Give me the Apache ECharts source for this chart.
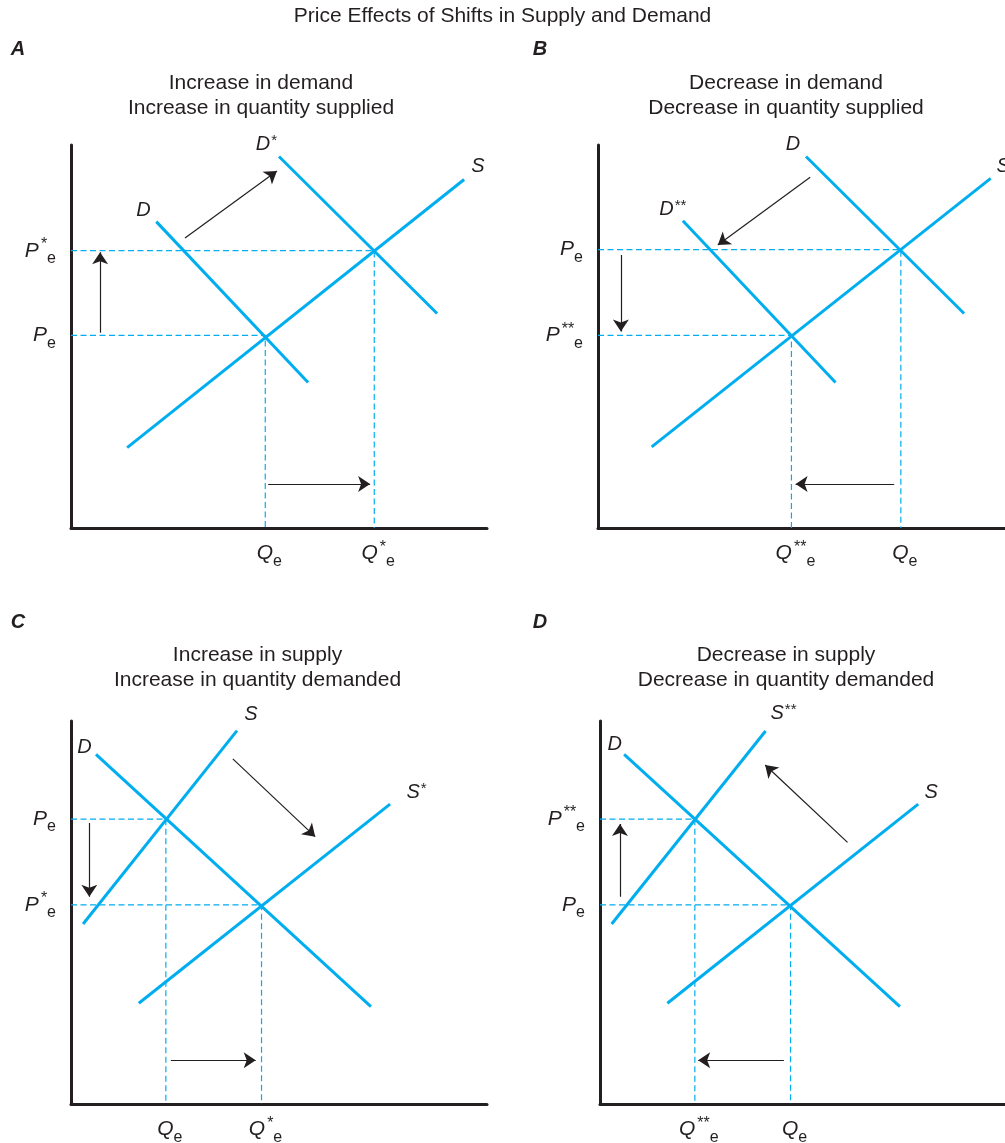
<!DOCTYPE html>
<html>
<head>
<meta charset="utf-8">
<script src="https://cdn.jsdelivr.net/npm/echarts@6/dist/echarts.min.js"></script>
<style>html,body{margin:0;padding:0;background:#fff}#chart{width:1005px;height:1143px}</style>
</head>
<body>
<div id="chart"></div>
<script>
// ---------------- DATA ----------------
const mainTitle = 'Price Effects of Shifts in Supply and Demand';
const panelLetters = ['A', 'B', 'C', 'D'];

// Panel A: increase in demand
const aTitle = ['Increase in demand', 'Increase in quantity supplied'];
const aSupply = [[13.5, 21], [94.5, 91]];
const aDemand = [[57, 38], [20.5, 80]];
const aDemandStar = [[88, 56], [50, 97]];
const aCurveNames = [['S'], ['D'], ['D', '*']];
const aPrices = [50.3, 72.4];
const aPriceLabels = [['P', '', 'e'], ['P', '*', 'e']];
const aQuantities = [46.7, 72.9];
const aQuantityLabels = [['Q', '', 'e'], ['Q', '*', 'e']];
const aArrows = [[[7, 51], [7, 72]], [[27.4, 75.7], [49.5, 93.2]], [[47.4, 11.5], [71.9, 11.5]]];

// Panel B: decrease in demand
const bTitle = ['Decrease in demand', 'Decrease in quantity supplied'];
const bSupply = [[12.9, 21.2], [94.4, 91.3]];
const bDemand = [[88, 56], [50, 97]];
const bDemandStar = [[57.1, 38], [20.4, 80.2]];
const bCurveNames = [['S'], ['D'], ['D', '**']];
const bPrices = [72.7, 50.3];
const bPriceLabels = [['P', '', 'e'], ['P', '**', 'e']];
const bQuantities = [72.8, 46.5];
const bQuantityLabels = [['Q', '', 'e'], ['Q', '**', 'e']];
const bArrows = [[[5.5, 71.3], [5.5, 51.3]], [[51, 91.6], [28.8, 73.9]], [[71.2, 11.5], [47.5, 11.5]]];

// Panel C: increase in supply
const cTitle = ['Increase in supply', 'Increase in quantity demanded'];
const cSupply = [[2.9, 47], [39.9, 97.5]];
const cDemand = [[72.1, 25.4], [6, 91.3]];
const cSupplyStar = [[16.3, 26.3], [76.7, 78.3]];
const cCurveNames = [['S'], ['D'], ['S', '*']];
const cPrices = [74.4, 52];
const cPriceLabels = [['P', '', 'e'], ['P', '*', 'e']];
const cQuantities = [22.8, 45.8];
const cQuantityLabels = [['Q', '', 'e'], ['Q', '*', 'e']];
const cArrows = [[[4.4, 73.4], [4.4, 54.1]], [[38.9, 90.1], [58.7, 69.8]], [[24, 11.4], [44.4, 11.4]]];

// Panel D: decrease in supply
const dTitle = ['Decrease in supply', 'Decrease in quantity demanded'];
const dSupplyStar = [[2.8, 47], [39.8, 97.4]];
const dDemand = [[72.1, 25.4], [5.8, 91.3]];
const dSupply = [[16.2, 26.3], [76.5, 78.3]];
const dCurveNames = [['S', '**'], ['D'], ['S']];
const dPrices = [52, 74.4];
const dPriceLabels = [['P', '', 'e'], ['P', '**', 'e']];
const dQuantities = [45.8, 22.8];
const dQuantityLabels = [['Q', '', 'e'], ['Q', '**', 'e']];
const dArrows = [[[4.8, 54.1], [4.8, 73.1]], [[59.5, 68.3], [39.7, 88.5]], [[44.2, 11.4], [23.6, 11.4]]];

// ---------------- LAYOUT / STYLE ----------------
const INK = '#231f20';
const BLUE = '#00aeef';
const FONT = '"Liberation Sans", Arial, Helvetica, sans-serif';

const gridPos = [[71, 145], [598, 145], [71, 721], [600, 721]];
const titleCenters = [[261, 96], [786, 96], [257.5, 667.7], [786, 667.7]];
const letterPos = [[18, 49], [540, 49], [18, 622], [540, 622]];
const labelOffsets = [
  [[13.7, -13], [-12.7, -10.7], [-12.6, -12]],
  [[12.5, -12], [-13, -12], [-10, -11]],
  [[14, -15.7], [-11.5, -7.3], [26.4, -12]],
  [[17.9, -17.2], [-9.5, -9.6], [13, -12.1]]
];

const panels = [
  {curves: [aSupply, aDemand, aDemandStar], names: aCurveNames, prices: aPrices, priceLabels: aPriceLabels, quantities: aQuantities, quantityLabels: aQuantityLabels, arrows: aArrows, title: aTitle},
  {curves: [bSupply, bDemand, bDemandStar], names: bCurveNames, prices: bPrices, priceLabels: bPriceLabels, quantities: bQuantities, quantityLabels: bQuantityLabels, arrows: bArrows, title: bTitle},
  {curves: [cSupply, cDemand, cSupplyStar], names: cCurveNames, prices: cPrices, priceLabels: cPriceLabels, quantities: cQuantities, quantityLabels: cQuantityLabels, arrows: cArrows, title: cTitle},
  {curves: [dSupplyStar, dDemand, dSupply], names: dCurveNames, prices: dPrices, priceLabels: dPriceLabels, quantities: dQuantities, quantityLabels: dQuantityLabels, arrows: dArrows, title: dTitle}
];

const AXIS_RICH = {
  b: {fontFamily: FONT, fontStyle: 'italic', fontSize: 21, color: INK, lineHeight: 32},
  sp: {fontFamily: FONT, fontSize: 16, color: INK, verticalAlign: 'top', lineHeight: 16, padding: [2, 0, 0, 2]},
  sb: {fontFamily: FONT, fontSize: 16, color: INK, verticalAlign: 'bottom', lineHeight: 16}
};
const CURVE_RICH = {
  b: {fontFamily: FONT, fontStyle: 'italic', fontSize: 20, color: INK, lineHeight: 28},
  sp: {fontFamily: FONT, fontSize: 15, color: INK, verticalAlign: 'top', lineHeight: 15, padding: [3, 0, 0, 1]}
};

function fmt(parts) {
  let s = '{b|' + parts[0] + '}';
  if (parts[1]) s += '{sp|' + parts[1] + '}';
  if (parts[2]) s += '{sb|' + parts[2] + '}';
  return s;
}

const grids = [], xAxes = [], yAxes = [], series = [], graphics = [];

panels.forEach((p, gi) => {
  grids.push({left: gridPos[gi][0], top: gridPos[gi][1], width: 416, height: 383,
              containLabel: false, outerBoundsMode: 'none'});
  xAxes.push({
    gridIndex: gi, type: 'value', min: 0, max: 100,
    axisLine: {show: true, onZero: false, lineStyle: {color: INK, width: 3}},
    axisTick: {show: false}, splitLine: {show: false},
    axisLabel: {
      show: true, customValues: p.quantities, margin: 9.5, padding: [0, 0, 0, 8],
      formatter: v => fmt(p.quantityLabels[p.quantities.indexOf(v)]),
      rich: AXIS_RICH
    }
  });
  yAxes.push({
    gridIndex: gi, type: 'value', min: 0, max: 100,
    axisLine: {show: true, onZero: false, lineStyle: {color: INK, width: 3}},
    axisTick: {show: false}, splitLine: {show: false},
    axisLabel: {
      show: true, customValues: p.prices, margin: 15,
      formatter: v => fmt(p.priceLabels[p.prices.indexOf(v)]),
      rich: AXIS_RICH
    }
  });

  // dashed equilibrium guides
  p.prices.forEach((pr, k) => {
    series.push({
      type: 'line', xAxisIndex: gi, yAxisIndex: gi, silent: true, z: 1,
      symbol: 'none', animation: false,
      lineStyle: {color: BLUE, width: 1.2, type: [6, 3.5]},
      data: [[0, pr], [p.quantities[k], pr], [p.quantities[k], 0]]
    });
  });

  // supply / demand curves
  p.curves.forEach((c, k) => {
    const off = labelOffsets[gi][k];
    series.push({
      type: 'line', xAxisIndex: gi, yAxisIndex: gi, silent: true, z: 3,
      symbol: 'none', showSymbol: true, animation: false,
      lineStyle: {color: BLUE, width: 3},
      itemStyle: {color: 'rgba(0,0,0,0)', borderWidth: 0},
      data: c.map((pt, i) => i === c.length - 1 ? {
        value: pt, symbol: 'circle', symbolSize: 1,
        label: {show: true, position: 'inside', offset: off, align: 'center', verticalAlign: 'middle',
                formatter: fmt(p.names[k]), rich: CURVE_RICH}
      } : {value: pt})
    });
  });

  // arrows
  series.push({
    type: 'lines', coordinateSystem: 'cartesian2d', xAxisIndex: gi, yAxisIndex: gi,
    silent: true, z: 4, animation: false,
    symbol: ['none', 'arrow'], symbolSize: [5, 12],
    lineStyle: {color: INK, width: 1.2, opacity: 1, curveness: 0},
    data: p.arrows.map(a => ({coords: a}))
  });

  graphics.push({
    type: 'text', x: titleCenters[gi][0], y: titleCenters[gi][1], silent: true,
    style: {text: p.title.join('\n'), font: '21px ' + FONT, fill: INK, align: 'center', verticalAlign: 'middle', lineHeight: 25}
  });
  graphics.push({
    type: 'text', x: letterPos[gi][0], y: letterPos[gi][1], silent: true,
    style: {text: panelLetters[gi], font: 'italic bold 20px ' + FONT, fill: INK, align: 'center', verticalAlign: 'middle'}
  });
});

const chart = echarts.init(document.getElementById('chart'), null, {renderer: 'canvas'});
chart.setOption({
  animation: false,
  backgroundColor: '#ffffff',
  title: {text: mainTitle, left: 'center', top: 4, padding: 0,
          textStyle: {fontFamily: FONT, fontSize: 21, fontWeight: 'normal', color: INK, lineHeight: 24}},
  grid: grids, xAxis: xAxes, yAxis: yAxes, series: series, graphic: graphics
});
</script>
</body>
</html>
